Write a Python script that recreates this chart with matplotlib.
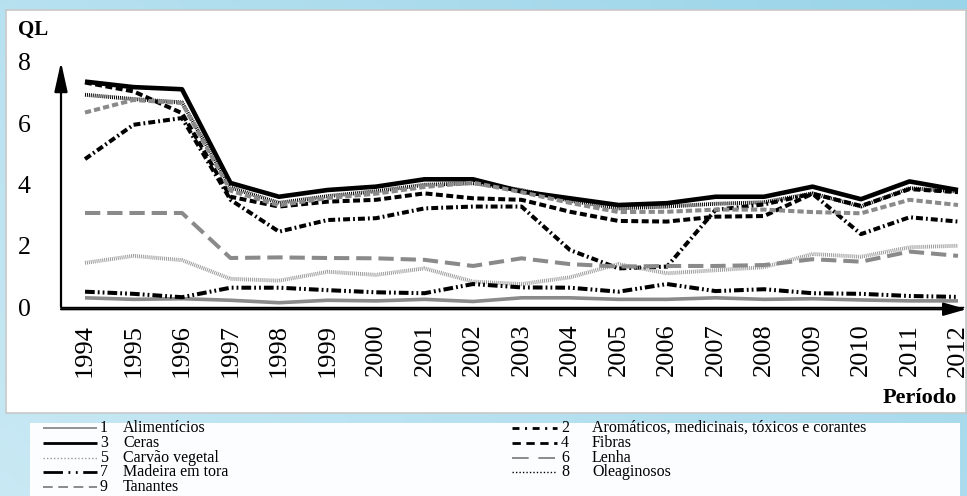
import numpy as np
import matplotlib
matplotlib.use("Agg")
import matplotlib.pyplot as plt
from matplotlib.patches import Rectangle

plt.rcParams['font.family'] = ['Liberation Serif', 'DejaVu Serif']
plt.rcParams['lines.scale_dashes'] = False

anos = list(range(1994, 2013))

alimenticios = [0.30, 0.25, 0.27, 0.22, 0.14, 0.22, 0.20, 0.25, 0.18, 0.30, 0.30, 0.25, 0.25, 0.30, 0.25, 0.27, 0.23, 0.20, 0.20]
aromaticos = [4.83, 5.95, 6.17, 3.50, 2.46, 2.84, 2.90, 3.22, 3.28, 3.28, 1.86, 1.26, 1.32, 3.17, 3.35, 3.70, 2.38, 2.93, 2.79]
ceras = [7.36, 7.18, 7.11, 4.05, 3.60, 3.82, 3.93, 4.17, 4.17, 3.77, 3.55, 3.33, 3.39, 3.60, 3.60, 3.93, 3.52, 4.10, 3.82]
fibras = [7.33, 7.04, 6.33, 3.60, 3.28, 3.44, 3.50, 3.71, 3.55, 3.50, 3.11, 2.81, 2.79, 2.95, 2.97, 3.70, 3.30, 3.85, 3.75]
carvao = [1.44, 1.67, 1.53, 0.92, 0.86, 1.15, 1.05, 1.26, 0.83, 0.75, 0.97, 1.40, 1.10, 1.20, 1.30, 1.73, 1.64, 1.95, 2.00]
lenha = [3.07, 3.07, 3.07, 1.60, 1.62, 1.60, 1.59, 1.54, 1.34, 1.59, 1.40, 1.32, 1.34, 1.34, 1.37, 1.56, 1.48, 1.81, 1.67]
madeira = [0.50, 0.43, 0.32, 0.63, 0.63, 0.55, 0.48, 0.45, 0.75, 0.64, 0.63, 0.50, 0.75, 0.52, 0.58, 0.45, 0.43, 0.36, 0.33]
oleaginosos = [6.93, 6.79, 6.68, 3.90, 3.40, 3.62, 3.78, 3.99, 4.04, 3.82, 3.47, 3.22, 3.28, 3.37, 3.42, 3.71, 3.28, 3.88, 3.77]
tanantes = [6.35, 6.76, 6.66, 3.80, 3.32, 3.56, 3.70, 3.92, 4.06, 3.75, 3.40, 3.10, 3.11, 3.18, 3.18, 3.10, 3.06, 3.50, 3.33]

# (numero, nome, valores, cor, estilo, espessura)
series = [
    ("1", "Alimentícios", alimenticios, "#8a8a8a", "-", 2.6),
    ("2", "Aromáticos, medicinais, tóxicos e corantes", aromaticos, "black", (0, (5, 2.2, 1.3, 2.2)), 2.9),
    ("3", "Ceras", ceras, "black", "-", 3.3),
    ("4", "Fibras", fibras, "black", (0, (5, 2.5)), 2.9),
    ("5", "Carvão vegetal", carvao, "#9a9a9a", (0, (0.7, 0.7)), 2.8),
    ("6", "Lenha", lenha, "#8a8a8a", (0, (11, 5)), 2.9),
    ("7", "Madeira em tora", madeira, "black", (0, (7, 2.2, 1.3, 2.2, 1.3, 2.2)), 2.9),
    ("8", "Oleaginosos", oleaginosos, "black", (0, (0.7, 0.7)), 2.8),
    ("9", "Tanantes", tanantes, "#8a8a8a", (0, (4.5, 2.2)), 2.9),
]

W, H = 967, 496
fig = plt.figure(figsize=(W / 100, H / 100), dpi=100)

# fundo azul
bg = fig.add_axes([0, 0, 1, 1])
gx = np.linspace(0, 1, 300)
gy = np.linspace(0, 1, 150)
GX, GY = np.meshgrid(gx, gy)
val = 0.55 + 0.25 * GX - 0.15 * GY
bg.imshow(val, cmap=matplotlib.colors.LinearSegmentedColormap.from_list("b", ["#d4eef7", "#8fcfe6"]),
          aspect="auto", extent=[0, 1, 0, 1], vmin=0.3, vmax=0.9)
bg.set_xlim(0, 1)
bg.set_ylim(0, 1)
bg.axis("off")
bg.add_patch(Rectangle((6 / W, 1 - 413 / H), 960 / W, 403 / H, facecolor="white", edgecolor="#c8c8c8", lw=1.2))
bg.add_patch(Rectangle((30 / W, 0), 930 / W, 1 - 423 / H, facecolor="#fbfdfe", edgecolor="none"))

ax = fig.add_axes([61 / W, 1 - 307 / H, 902 / W, 245 / H])
ax.patch.set_alpha(0)
for num, nome, vals, cor, estilo, lw in series:
    ax.plot(anos, vals, color=cor, linestyle=estilo, lw=lw, solid_capstyle="butt", dash_capstyle="butt")

ax.set_xlim(1993.505, 2012.103)
ax.set_ylim(0, 8)
ax.set_yticks([0, 2, 4, 6, 8])
ax.set_xticks(anos)
ax.set_xticklabels([str(a) for a in anos], rotation=90, fontsize=19)
ax.tick_params(axis="x", length=0, pad=12)
ax.tick_params(axis="y", length=0, pad=22, labelsize=18.5)
for s in ["top", "right", "left"]:
    ax.spines[s].set_visible(False)
ax.spines["bottom"].set_linewidth(1.0)

ax.annotate("", xy=(0, 1.0), xytext=(0, 0), xycoords="axes fraction",
            arrowprops=dict(arrowstyle="-|>,head_length=0.9,head_width=0.2", color="black", lw=1.6,
                            mutation_scale=20, shrinkA=0, shrinkB=0), annotation_clip=False)
ax.annotate("", xy=(1.004, -0.009), xytext=(0, -0.009), xycoords="axes fraction",
            arrowprops=dict(arrowstyle="-|>,head_length=0.7,head_width=0.2", color="black", lw=1.6,
                            mutation_scale=20, shrinkA=0, shrinkB=0), annotation_clip=False)

fig.text(33 / W, 1 - 30 / H, "QL", fontsize=15, fontweight="bold", ha="center", va="center")
fig.text(957 / W, 1 - 398 / H, "Período", fontsize=16, fontweight="bold", ha="right", va="center")

# legenda
lg = fig.add_axes([0, 0, 1, 1])
lg.set_xlim(0, W)
lg.set_ylim(H, 0)
lg.axis("off")
lg.patch.set_alpha(0)
leg_estilos = {
    "1": ("#8a8a8a", "-", 1.3),
    "2": ("black", (0, (5, 4, 1.5, 4)), 2.0),
    "3": ("black", "-", 2.0),
    "4": ("black", (0, (6, 4)), 2.0),
    "5": ("#9a9a9a", (0, (1, 1.5)), 1.0),
    "6": ("#8a8a8a", (0, (12, 7)), 1.4),
    "7": ("black", (0, (14, 4, 1.3, 4, 1.3, 4)), 2.0),
    "8": ("black", (0, (1, 1.5)), 1.0),
    "9": ("#8a8a8a", (0, (7, 4)), 1.4),
}
for i, (num, nome, vals, cor, estilo, lw) in enumerate(series):
    linha = i // 2
    y = 428 + 14.8 * linha
    if i % 2 == 0:
        x0, x1, xn, xt = 43, 97, 100, 123
    else:
        x0, x1, xn, xt = 512, 557, 561, 592
    c, ls, w = leg_estilos[num]
    lg.plot([x0, x1], [y, y], color=c, linestyle=ls, lw=w, solid_capstyle="butt")
    lg.text(xn, y, num, fontsize=11.5, va="center", ha="left")
    lg.text(xt, y, nome, fontsize=11.5, va="center", ha="left")

fig.savefig("out.png", dpi=100)
